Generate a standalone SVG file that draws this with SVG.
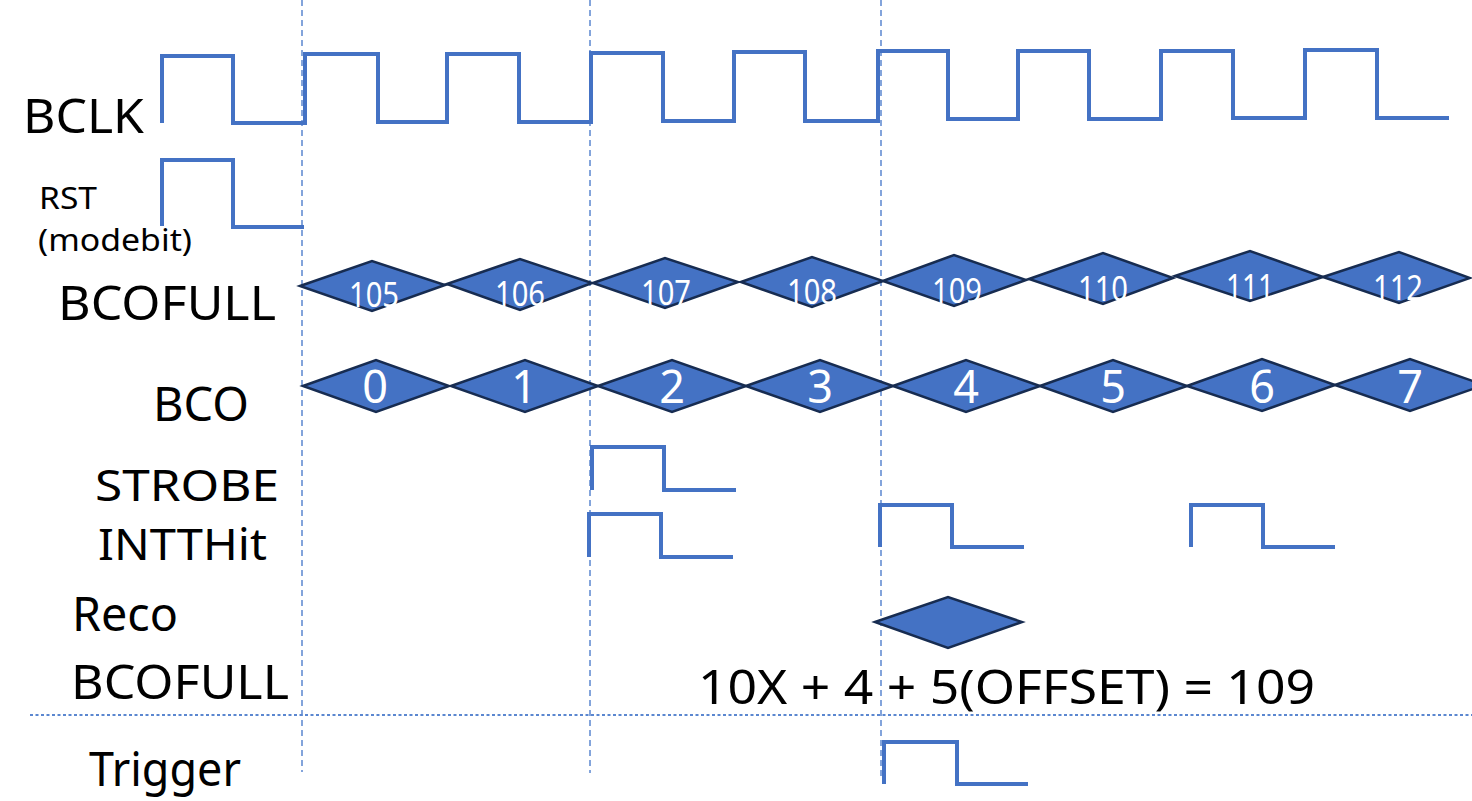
<svg xmlns="http://www.w3.org/2000/svg" width="1472" height="801" viewBox="0 0 1472 801">
  <style>
    .lbl { font-family: "Noto Sans", "Liberation Sans", sans-serif; fill: #000; }
    .big { font-size: 48px; }
    .mid { font-size: 44px; }
    .small { font-size: 31px; }
    .wave { fill: none; stroke: #4472C4; stroke-width: 4; stroke-linejoin: miter; stroke-linecap: butt; }
    .dia { fill: #4472C4; stroke: #172C51; stroke-width: 2.5; stroke-linejoin: miter; }
    .num { font-family: "Noto Sans", "Liberation Sans", sans-serif; fill: #fff; text-anchor: middle; }
    .n1 { font-size: 34px; }
    .n2 { font-size: 45px; }
    .vguide { stroke: #5B87D0; stroke-width: 1.5; stroke-dasharray: 6 4; fill: none; }
    .hguide { stroke: #5B87D0; stroke-width: 2; stroke-dasharray: 3 2.5; fill: none; }
  </style>

  <!-- timing guide lines -->
  <g id="connectors">
    <line class="vguide" x1="302" y1="0" x2="302" y2="772"/>
    <line class="vguide" x1="590" y1="0" x2="590" y2="773"/>
    <line class="vguide" x1="881" y1="0" x2="881" y2="778"/>
    <line class="hguide" x1="30" y1="715" x2="1472" y2="715"/>
  </g>

  <!-- BCLK -->
  <g id="bclk">
    <text class="lbl big" x="23" y="133" textLength="121" lengthAdjust="spacingAndGlyphs">BCLK</text>
    <path class="wave" d="M162,123 V56 H233 V123 H305 V54 H378 V122 H447 V54 H519 V122 H591 V53 H663 V121 H734 V52 H805 V121 H878 V51 H948 V119 H1018 V51 H1089 V119 H1161 V51 H1233 V118 H1305 V50 H1377 V118 H1449"/>
  </g>

  <!-- RST (modebit) -->
  <g id="rst">
    <text class="lbl small" x="39" y="209" textLength="58" lengthAdjust="spacingAndGlyphs">RST</text>
    <text class="lbl small" x="38" y="251" textLength="154" lengthAdjust="spacingAndGlyphs">(modebit)</text>
    <path class="wave" d="M162,226 V160 H233 V227 H304"/>
  </g>

  <!-- BCOFULL -->
  <g id="bcofull">
    <text class="lbl big" x="58" y="320" textLength="218" lengthAdjust="spacingAndGlyphs">BCOFULL</text>
    <polygon class="dia" points="300,286 372,261 445,285 372,311"/>
    <polygon class="dia" points="447,284 520,259 592,283 520,310"/>
    <polygon class="dia" points="593,283 665,258 738,282 665,308"/>
    <polygon class="dia" points="741,282 812,257 883,281 812,307"/>
    <polygon class="dia" points="883,281 954,255 1026,280 954,306"/>
    <polygon class="dia" points="1029,279 1103,253 1173,278 1103,304"/>
    <polygon class="dia" points="1175,276 1250,251 1323,277 1250,301"/>
    <polygon class="dia" points="1323,277 1399,252 1470,278 1399,303"/>
    <text class="num n1" x="374" y="307" textLength="50" lengthAdjust="spacingAndGlyphs">105</text>
    <text class="num n1" x="520" y="306" textLength="50" lengthAdjust="spacingAndGlyphs">106</text>
    <text class="num n1" x="666" y="305" textLength="50" lengthAdjust="spacingAndGlyphs">107</text>
    <text class="num n1" x="812" y="304" textLength="50" lengthAdjust="spacingAndGlyphs">108</text>
    <text class="num n1" x="957" y="303" textLength="50" lengthAdjust="spacingAndGlyphs">109</text>
    <text class="num n1" x="1103" y="301" textLength="50" lengthAdjust="spacingAndGlyphs">110</text>
    <text class="num n1" x="1250" y="299" textLength="48" lengthAdjust="spacingAndGlyphs">111</text>
    <text class="num n1" x="1398" y="300" textLength="50" lengthAdjust="spacingAndGlyphs">112</text>
  </g>

  <!-- BCO -->
  <g id="bco">
    <text class="lbl big" x="153" y="421" textLength="96" lengthAdjust="spacingAndGlyphs">BCO</text>
    <polygon class="dia" points="303,386 376,360 449,386 376,412"/>
    <polygon class="dia" points="451,386 525,360 598,386 525,412"/>
    <polygon class="dia" points="598,386 672,360 746,386 672,412"/>
    <polygon class="dia" points="746,386 820,360 893,386 820,412"/>
    <polygon class="dia" points="893,386 966,360 1040,386 966,412"/>
    <polygon class="dia" points="1040,386 1113,360 1187,386 1113,412"/>
    <polygon class="dia" points="1187,386 1262,359 1335,385 1262,411"/>
    <polygon class="dia" points="1335,385 1410,359 1484,385 1410,411"/>
    <text class="num n2" x="375" y="403">0</text>
    <text class="num n2" x="524" y="403">1</text>
    <text class="num n2" x="672" y="403">2</text>
    <text class="num n2" x="820" y="403">3</text>
    <text class="num n2" x="966" y="403">4</text>
    <text class="num n2" x="1113" y="403">5</text>
    <text class="num n2" x="1262" y="403">6</text>
    <text class="num n2" x="1410" y="403">7</text>
  </g>

  <!-- STROBE -->
  <g id="strobe">
    <text class="lbl mid" x="95" y="501" textLength="184" lengthAdjust="spacingAndGlyphs">STROBE</text>
    <path class="wave" d="M592,490 V447 H664 V490 H736"/>
  </g>

  <!-- INTTHit -->
  <g id="intthit">
    <text class="lbl mid" x="98" y="560" textLength="169" lengthAdjust="spacingAndGlyphs">INTTHit</text>
    <path class="wave" d="M589,557 V514 H661 V557 H733"/>
    <path class="wave" d="M880,547 V505 H952 V547 H1024"/>
    <path class="wave" d="M1191,547 V505 H1263 V547 H1335"/>
  </g>

  <!-- Reco BCOFULL -->
  <g id="reco-bcofull">
    <text class="lbl big" x="72" y="631" textLength="106" lengthAdjust="spacingAndGlyphs">Reco</text>
    <text class="lbl big" x="71" y="699" textLength="218" lengthAdjust="spacingAndGlyphs">BCOFULL</text>
    <polygon class="dia" points="875,622 948,597 1022,622 948,648"/>
    <text class="lbl big" x="698" y="704" textLength="617" lengthAdjust="spacingAndGlyphs">10X + 4 + 5(OFFSET) = 109</text>
  </g>

  <!-- Trigger -->
  <g id="trigger">
    <text class="lbl big" x="89" y="786" textLength="152" lengthAdjust="spacingAndGlyphs">Trigger</text>
    <path class="wave" d="M884,784 V742 H957 V784 H1028"/>
  </g>
</svg>
